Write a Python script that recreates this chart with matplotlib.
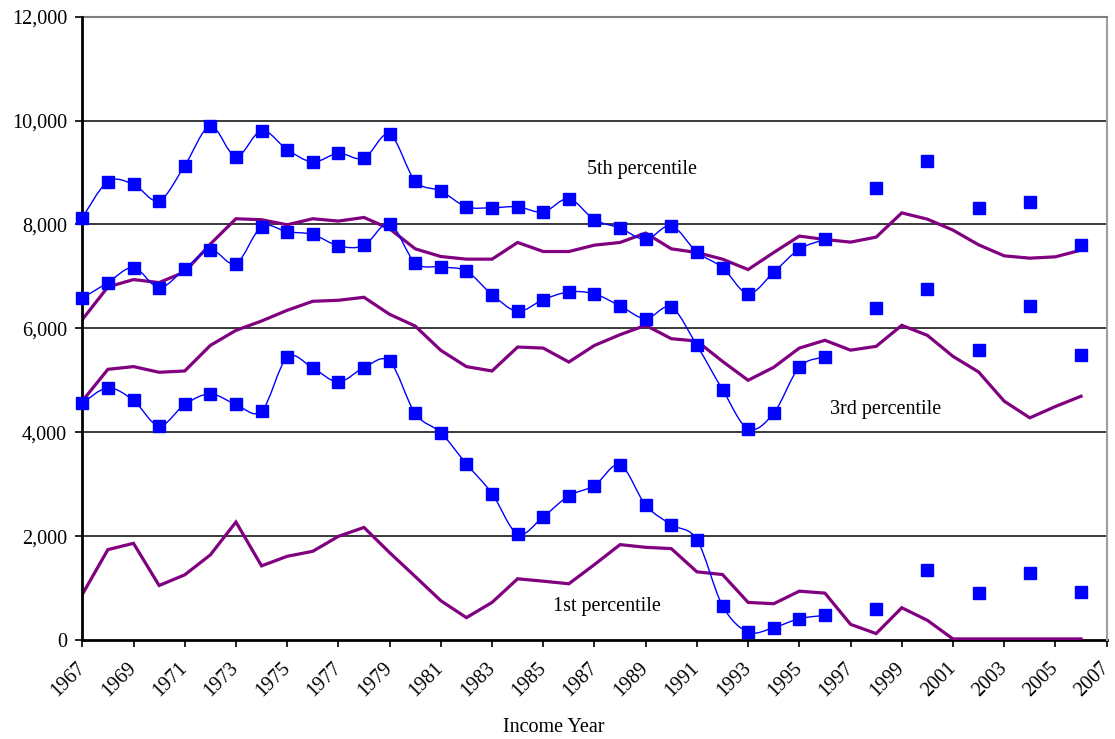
import numpy as np
import matplotlib
matplotlib.use("Agg")
import matplotlib.pyplot as plt
from matplotlib.path import Path
from matplotlib.patches import PathPatch

years = list(range(1967, 2007))

# blue series: yearly 1967-1996, then every other year (None = no value)
blue_5th = [8130, 8825, 8772, 8457, 9133, 9891, 9307, 9808, 9442, 9204,
            9370, 9274, 9737, 8837, 8644, 8341, 8322, 8341, 8239, 8496,
            8091, 7931, 7711, 7975, 7467, 7170, 6668, 7081, 7525, 7711,
            None, 8695, None, 9229, None, 8315, None, 8432, None, 7602]
blue_3rd = [6580, 6881, 7170, 6784, 7145, 7512, 7247, 7956, 7859, 7807,
            7589, 7595, 8014, 7261, 7184, 7101, 6649, 6329, 6553, 6701,
            6663, 6431, 6186, 6405, 5671, 4822, 4066, 4367, 5255, 5447,
            None, 6400, None, 6766, None, 5581, None, 6430, None, 5480]
blue_1st = [4559, 4853, 4611, 4124, 4534, 4738, 4534, 4406, 5441, 5236,
            4968, 5243, 5365, 4361, 3990, 3389, 2820, 2041, 2373, 2775,
            2973, 3370, 2597, 2219, 1931, 660, 153, 238, 410, 474,
            None, 602, None, 1343, None, 902, None, 1285, None, 915]

purple_5th = [6168, 6797, 6939, 6881, 7087, 7622, 8110, 8091, 7994, 8110,
              8065, 8135, 7917, 7531, 7383, 7332, 7332, 7653, 7479, 7479,
              7602, 7653, 7834, 7531, 7460, 7332, 7132, 7460, 7776, 7711,
              7660, 7756, 8223, 8102, 7891, 7608, 7396, 7351, 7377, 7506]
purple_3rd = [4600, 5211, 5263, 5154, 5179, 5671, 5961, 6141, 6347, 6521,
              6540, 6598, 6270, 6044, 5576, 5263, 5179, 5640, 5620, 5351,
              5671, 5878, 6058, 5801, 5755, 5364, 5000, 5250, 5620, 5770,
              5580, 5653, 6058, 5865, 5460, 5160, 4597, 4277, 4495, 4693]
purple_1st = [877, 1740, 1861, 1049, 1254, 1638, 2271, 1427, 1611, 1707,
              1995, 2167, 1682, 1222, 756, 430, 723, 1178, 1132, 1082,
              1452, 1836, 1784, 1759, 1312, 1260, 723, 698, 940, 902,
              301, 123, 621, 378, 20, 20, 20, 20, 20, 20]

BLUE = "#0000FF"
PURPLE = "#800080"

plt.rcParams["font.family"] = ["Liberation Serif", "DejaVu Serif"]


def smooth_path(xs, ys):
    # cubic bezier through the points (like Excel's smoothed line)
    pts = np.column_stack([xs, ys]).astype(float)
    n = len(pts)
    verts = [pts[0]]
    codes = [Path.MOVETO]
    for i in range(n - 1):
        p0 = pts[i - 1] if i > 0 else pts[i]
        p1 = pts[i]
        p2 = pts[i + 1]
        p3 = pts[i + 2] if i + 2 < n else pts[i + 1]
        c1 = p1 + (p2 - p0) / 6.0
        c2 = p2 - (p3 - p1) / 6.0
        verts += [c1, c2, p2]
        codes += [Path.CURVE4] * 3
    return Path(verts, codes)


fig = plt.figure(figsize=(11.15, 7.39), dpi=100)
ax = fig.add_axes([0.0738, 0.134, 0.9187, 0.8434])

for series in (purple_5th, purple_3rd, purple_1st):
    ax.plot(years, series, color=PURPLE, lw=2.3, zorder=3, solid_joinstyle="miter")

for series in (blue_5th, blue_3rd, blue_1st):
    xs = [y for y, v in zip(years, series) if v is not None]
    vs = [v for v in series if v is not None]
    cont_x = [y for y in xs if y <= 1996]
    cont_v = vs[:len(cont_x)]
    ax.add_patch(PathPatch(smooth_path(cont_x, cont_v), fc="none", ec=BLUE,
                           lw=1.0, zorder=4))
    ax.plot(xs, vs, ls="none", marker="s", ms=8, color=BLUE, zorder=7,
            clip_on=False)

ax.set_xlim(1967, 2007)
ax.set_ylim(0, 12000)
ax.set_xticks(range(1967, 2008, 2))
ax.set_yticks(range(0, 12001, 2000))
ax.set_yticklabels([f"{v:,}" for v in range(0, 12001, 2000)], fontsize=14.5)
ax.set_xticklabels([str(y) for y in range(1967, 2008, 2)], fontsize=14.5,
                   rotation=45, ha="right", va="center", rotation_mode="anchor")
ax.tick_params(axis="y", length=5, width=1.2, pad=6, direction="out")
ax.tick_params(axis="x", length=5, width=1.2, pad=13, direction="out")

for v in range(2000, 12000, 2000):
    ax.axhline(v, color="#2a2a2a", lw=1.3, zorder=1)

ax.spines["left"].set_linewidth(2.0)
ax.spines["bottom"].set_linewidth(2.0)
ax.spines["top"].set_color("#808080")
ax.spines["top"].set_linewidth(1.5)
ax.spines["right"].set_color("#a0a0a0")
ax.spines["right"].set_linewidth(1.5)
ax.spines["left"].set_zorder(6)
ax.spines["bottom"].set_zorder(2)

ax.text(1986.7, 9060, "5th percentile", fontsize=14.5, va="center")
ax.text(1996.2, 4440, "3rd percentile", fontsize=14.5, va="center")
ax.text(1985.4, 650, "1st percentile", fontsize=14.5, va="center")

fig.text(0.497, 0.016, "Income Year", fontsize=14.5, ha="center", va="center")

fig.savefig("out.png", dpi=100)
